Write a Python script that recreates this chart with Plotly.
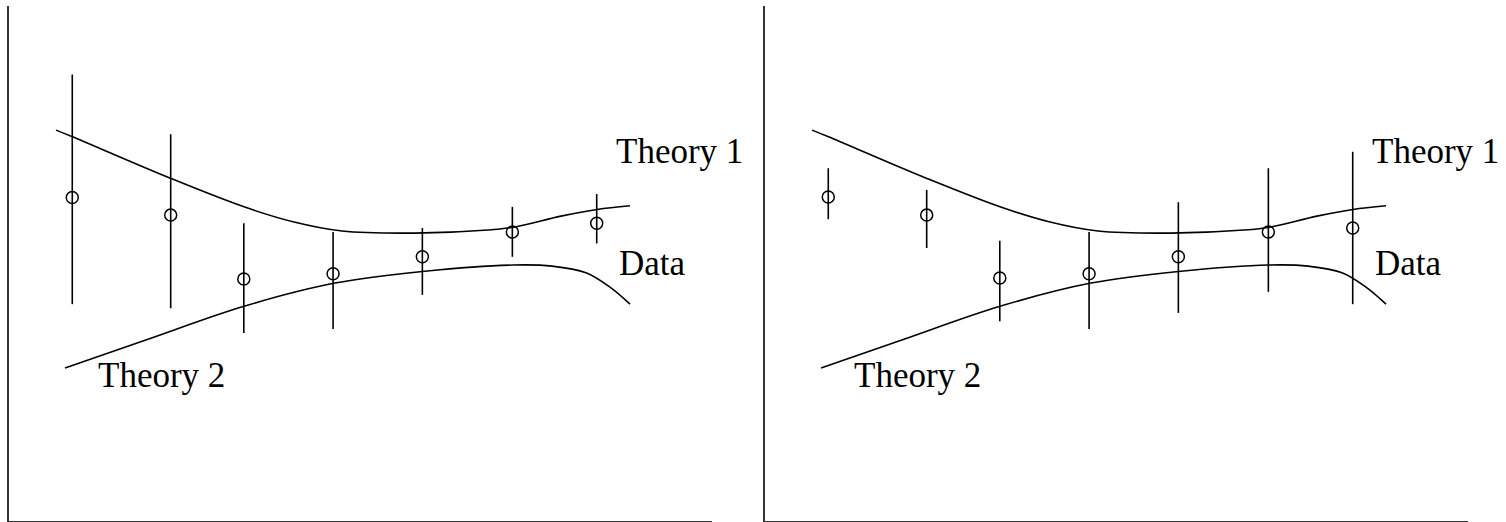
import plotly.graph_objects as go

# Measured points (shared x positions)
x_meas = [0.90, 2.30, 3.34, 4.61, 5.88, 7.16, 8.36]

# Left panel: measurements with large early uncertainties
y_left = [6.28, 5.94, 4.70, 4.80, 5.13, 5.61, 5.78]
hi_left = [8.67, 7.51, 5.78, 5.61, 5.69, 6.10, 6.35]
lo_left = [4.21, 4.13, 3.65, 3.73, 4.39, 5.13, 5.39]

# Right panel: measurements with large late uncertainties
y_right = [6.29, 5.94, 4.72, 4.80, 5.13, 5.61, 5.69]
hi_right = [6.85, 6.43, 5.44, 5.61, 6.19, 6.85, 7.17]
lo_right = [5.86, 5.30, 3.88, 3.73, 4.04, 4.45, 4.21]

# Theory curves
theory1_x = [0.669, 0.903, 2.304, 3.343, 4.040, 4.737, 5.775, 6.814, 7.198, 7.852, 8.364, 8.834]
theory1_y = [7.59, 7.46, 6.65, 6.10, 5.81, 5.63, 5.59, 5.65, 5.71, 5.92, 6.05, 6.12]
theory2_x = [0.797, 1.956, 3.343, 4.637, 5.917, 7.169, 7.724, 8.208, 8.549, 8.834]
theory2_y = [2.97, 3.52, 4.17, 4.62, 4.85, 4.97, 4.95, 4.82, 4.54, 4.21]

# Label positions
labels = ["Theory 1", "Data", "Theory 2"]
label_x = [8.60, 8.65, 1.24]
label_y = [7.17, 5.00, 2.83]

fig = go.Figure()

panels = [("x", "y", y_left, hi_left, lo_left), ("x2", "y2", y_right, hi_right, lo_right)]
for xa, ya, yv, hi, lo in panels:
    fig.add_trace(go.Scatter(
        x=theory1_x, y=theory1_y, xaxis=xa, yaxis=ya, mode="lines",
        line=dict(color="black", width=1.6, shape="spline", smoothing=1.0),
        showlegend=False, hoverinfo="skip"))
    fig.add_trace(go.Scatter(
        x=theory2_x, y=theory2_y, xaxis=xa, yaxis=ya, mode="lines",
        line=dict(color="black", width=1.6, shape="spline", smoothing=1.0),
        showlegend=False, hoverinfo="skip"))
    fig.add_trace(go.Scatter(
        x=x_meas, y=yv, xaxis=xa, yaxis=ya, mode="markers",
        marker=dict(symbol="circle-open", size=12, color="black", line=dict(width=1.5, color="black")),
        error_y=dict(type="data", symmetric=False,
                     array=[h - v for h, v in zip(hi, yv)],
                     arrayminus=[v - l for v, l in zip(yv, lo)],
                     color="black", thickness=1.6, width=0),
        showlegend=False))
    for t, lx, ly in zip(labels, label_x, label_y):
        fig.add_annotation(x=lx, y=ly, xref=xa, yref=ya, text=t, showarrow=False,
                           xanchor="left", yanchor="middle",
                           font=dict(family="Liberation Serif", size=35, color="black"))

axis_common = dict(range=[0, 10], showgrid=False, zeroline=False, showticklabels=False,
                   ticks="", showline=True, linecolor="#333333", linewidth=2, fixedrange=True)

fig.update_layout(
    width=1506, height=522,
    margin=dict(l=0, r=0, t=0, b=0),
    paper_bgcolor="white", plot_bgcolor="white",
    xaxis=dict(domain=[9 / 1506, 712 / 1506], anchor="y", **axis_common),
    yaxis=dict(domain=[1 / 522, 516 / 522], anchor="x", **axis_common),
    xaxis2=dict(domain=[765 / 1506, 1468 / 1506], anchor="y2", **axis_common),
    yaxis2=dict(domain=[1 / 522, 516 / 522], anchor="x2", **axis_common),
)

fig.write_html("out.html")
